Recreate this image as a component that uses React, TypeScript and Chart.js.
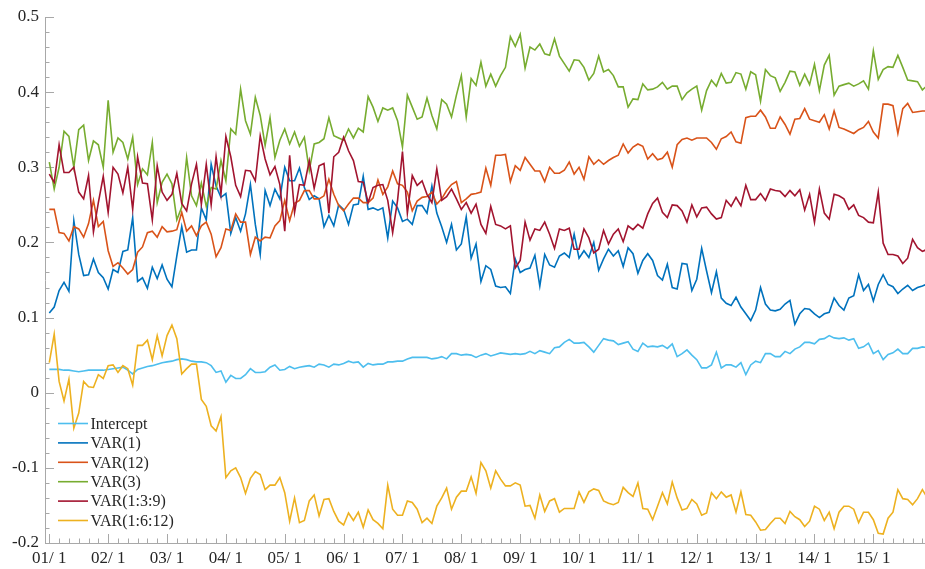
import React, { useEffect, useRef } from 'react';
import { Chart, registerables } from 'chart.js';

Chart.register(...registerables);

// Month index 0 = 2001/01 ... 179 = 2015/12
const yearTickLabels = ['01/ 1', '02/ 1', '03/ 1', '04/ 1', '05/ 1', '06/ 1', '07/ 1', '08/ 1', '09/ 1', '10/ 1', '11/ 1', '12/ 1', '13/ 1', '14/ 1', '15/ 1'];
const seriesNames = ['Intercept', 'VAR(1)', 'VAR(12)', 'VAR(3)', 'VAR(1:3:9)', 'VAR(1:6:12)'];
const seriesColors = ['#4DBEEE', '#0072BD', '#D95319', '#77AC30', '#A2142F', '#EDB120'];

const intercept = [
  0.031, 0.031, 0.031, 0.030, 0.030, 0.029, 0.028, 0.029, 0.030, 0.030, 0.030, 0.030, 0.031, 0.032, 0.033, 0.034, 0.030, 0.025, 0.031, 0.033, 0.035, 0.036, 0.038, 0.040, 0.041, 0.042, 0.044, 0.045, 0.044, 0.042, 0.041, 0.041, 0.040, 0.036, 0.027, 0.029, 0.014, 0.023, 0.019,
  0.019, 0.024, 0.032, 0.027, 0.027, 0.028, 0.034, 0.037, 0.030, 0.031, 0.035, 0.032, 0.034, 0.035, 0.036, 0.034, 0.038, 0.037, 0.034, 0.038, 0.037, 0.039, 0.042, 0.040, 0.041, 0.034, 0.039, 0.037, 0.038, 0.038, 0.041, 0.041, 0.042, 0.042, 0.045, 0.047, 0.047, 0.047, 0.047, 0.045, 0.046, 0.048, 0.045, 0.052, 0.052, 0.050, 0.051,
  0.050, 0.047, 0.050, 0.052, 0.049, 0.051, 0.053, 0.052, 0.051, 0.052, 0.051, 0.052, 0.055, 0.052, 0.056, 0.054, 0.052, 0.060, 0.061, 0.067, 0.071, 0.066, 0.066, 0.067, 0.061, 0.054, 0.063, 0.072, 0.070, 0.069, 0.064, 0.066, 0.068, 0.058, 0.055, 0.066, 0.061, 0.062, 0.061, 0.063, 0.059, 0.065, 0.048, 0.052, 0.057, 0.050, 0.044,
  0.033, 0.033, 0.037, 0.054, 0.033, 0.037, 0.037, 0.034, 0.040, 0.024, 0.037, 0.042, 0.040, 0.052, 0.052, 0.048, 0.048, 0.055, 0.052, 0.058, 0.061, 0.067, 0.067, 0.065, 0.071, 0.072, 0.076, 0.073, 0.072, 0.073, 0.070, 0.072, 0.059, 0.061, 0.066, 0.052, 0.056, 0.044, 0.051, 0.053, 0.058, 0.052, 0.052, 0.059, 0.059, 0.061, 0.060,
];

const var1 = [
  0.106, 0.114, 0.136, 0.147, 0.135, 0.229, 0.184, 0.156, 0.157, 0.178, 0.160, 0.153, 0.138, 0.164, 0.160, 0.188, 0.190, 0.233, 0.148, 0.153, 0.139, 0.167, 0.152, 0.170, 0.151, 0.141, 0.182, 0.221, 0.187,
  0.190, 0.190, 0.246, 0.230, 0.304, 0.275, 0.260, 0.265, 0.212, 0.233, 0.215, 0.238, 0.277, 0.224, 0.184, 0.269, 0.249, 0.271, 0.258, 0.300, 0.282, 0.282, 0.299, 0.273, 0.257, 0.262, 0.258, 0.221, 0.236,
  0.222, 0.250, 0.244, 0.224, 0.250, 0.251, 0.288, 0.244, 0.246, 0.243, 0.246, 0.206, 0.255, 0.246, 0.228, 0.231, 0.224, 0.249, 0.249, 0.239, 0.275, 0.239, 0.221, 0.200, 0.224, 0.190, 0.198, 0.234, 0.179,
  0.198, 0.148, 0.169, 0.164, 0.142, 0.140, 0.141, 0.132, 0.178, 0.160, 0.164, 0.166, 0.183, 0.142, 0.184, 0.170, 0.167, 0.182, 0.186, 0.180, 0.211, 0.179, 0.189, 0.180, 0.200, 0.163, 0.178, 0.191, 0.182, 0.189,
  0.168, 0.193, 0.185, 0.159, 0.176, 0.185, 0.176, 0.156, 0.150, 0.171, 0.140, 0.138, 0.172, 0.171, 0.136, 0.151, 0.192, 0.162, 0.133, 0.161, 0.126, 0.119, 0.116, 0.127, 0.114, 0.105, 0.096, 0.110, 0.140,
  0.118, 0.110, 0.109, 0.111, 0.118, 0.123, 0.091, 0.105, 0.112, 0.111, 0.105, 0.100, 0.105, 0.107, 0.126, 0.116, 0.110, 0.126, 0.129, 0.157, 0.136, 0.144, 0.122, 0.144, 0.157, 0.144, 0.141, 0.132, 0.138, 0.143, 0.136, 0.140, 0.142, 0.145,
];

const var12 = [
  0.244, 0.244, 0.213, 0.212, 0.202, 0.221, 0.218, 0.207, 0.225, 0.256, 0.221, 0.228, 0.189, 0.168, 0.173, 0.166, 0.158, 0.164, 0.187, 0.194, 0.213, 0.215, 0.207, 0.221, 0.214, 0.215, 0.217, 0.240, 0.215,
  0.222, 0.209, 0.222, 0.227, 0.211, 0.181, 0.193, 0.218, 0.216, 0.238, 0.227, 0.227, 0.184, 0.207, 0.202, 0.207, 0.206, 0.222, 0.229, 0.256, 0.229, 0.252, 0.256, 0.269, 0.269, 0.258, 0.258, 0.262, 0.284,
  0.264, 0.249, 0.242, 0.251, 0.259, 0.259, 0.253, 0.253, 0.259, 0.283, 0.264, 0.274, 0.295, 0.278, 0.276, 0.267, 0.242, 0.255, 0.260, 0.261, 0.267, 0.251, 0.258, 0.269, 0.277, 0.281, 0.253, 0.258, 0.264,
  0.265, 0.267, 0.299, 0.276, 0.316, 0.316, 0.317, 0.281, 0.302, 0.296, 0.313, 0.304, 0.295, 0.295, 0.281, 0.300, 0.292, 0.292, 0.296, 0.307, 0.291, 0.300, 0.284, 0.314, 0.304, 0.310, 0.304, 0.309, 0.313, 0.316,
  0.331, 0.319, 0.327, 0.331, 0.328, 0.311, 0.318, 0.310, 0.312, 0.320, 0.300, 0.330, 0.337, 0.339, 0.336, 0.339, 0.339, 0.339, 0.333, 0.324, 0.338, 0.341, 0.347, 0.334, 0.332, 0.366, 0.368, 0.368, 0.376,
  0.367, 0.352, 0.352, 0.367, 0.357, 0.344, 0.364, 0.365, 0.378, 0.364, 0.362, 0.360, 0.370, 0.351, 0.375, 0.353, 0.351, 0.348, 0.345, 0.350, 0.353, 0.361, 0.347, 0.339, 0.384, 0.384, 0.382, 0.345, 0.378, 0.385, 0.373, 0.374, 0.375, 0.375,
];

const var3 = [
  0.307, 0.271, 0.300, 0.348, 0.341, 0.300, 0.350, 0.356, 0.309, 0.335, 0.330, 0.300, 0.389, 0.320, 0.339, 0.333, 0.311, 0.340, 0.277, 0.298, 0.290, 0.333, 0.253, 0.280, 0.291, 0.278, 0.230, 0.247, 0.313,
  0.262, 0.249, 0.279, 0.248, 0.273, 0.271, 0.309, 0.282, 0.351, 0.344, 0.404, 0.362, 0.344, 0.393, 0.369, 0.329, 0.366, 0.313, 0.336, 0.351, 0.331, 0.347, 0.328, 0.340, 0.296, 0.331, 0.333, 0.338, 0.366,
  0.342, 0.339, 0.336, 0.351, 0.339, 0.352, 0.347, 0.394, 0.380, 0.361, 0.379, 0.376, 0.379, 0.362, 0.327, 0.396, 0.380, 0.364, 0.367, 0.392, 0.369, 0.351, 0.390, 0.384, 0.367, 0.396, 0.422, 0.367, 0.418,
  0.409, 0.440, 0.408, 0.424, 0.408, 0.422, 0.433, 0.474, 0.461, 0.477, 0.432, 0.460, 0.456, 0.464, 0.451, 0.449, 0.471, 0.448, 0.438, 0.428, 0.443, 0.442, 0.433, 0.416, 0.425, 0.448, 0.427, 0.430, 0.422, 0.407,
  0.407, 0.380, 0.391, 0.390, 0.411, 0.403, 0.404, 0.407, 0.413, 0.404, 0.408, 0.408, 0.390, 0.399, 0.404, 0.408, 0.376, 0.402, 0.416, 0.408, 0.425, 0.412, 0.413, 0.426, 0.424, 0.404, 0.427, 0.423, 0.388,
  0.430, 0.422, 0.419, 0.401, 0.413, 0.428, 0.427, 0.409, 0.424, 0.410, 0.437, 0.402, 0.436, 0.449, 0.396, 0.408, 0.410, 0.412, 0.408, 0.411, 0.415, 0.404, 0.455, 0.417, 0.430, 0.434, 0.433, 0.449, 0.433, 0.416, 0.415, 0.414, 0.403, 0.409,
];

const var139 = [
  0.291, 0.280, 0.330, 0.293, 0.293, 0.300, 0.267, 0.258, 0.289, 0.214, 0.253, 0.288, 0.240, 0.300, 0.291, 0.266, 0.300, 0.244, 0.314, 0.279, 0.278, 0.230, 0.302, 0.267, 0.256, 0.264, 0.292, 0.252, 0.242,
  0.278, 0.304, 0.251, 0.304, 0.250, 0.314, 0.264, 0.341, 0.314, 0.276, 0.261, 0.296, 0.295, 0.282, 0.342, 0.311, 0.290, 0.301, 0.277, 0.215, 0.316, 0.240, 0.277, 0.276, 0.309, 0.272, 0.302, 0.305, 0.239,
  0.314, 0.320, 0.340, 0.322, 0.309, 0.281, 0.280, 0.253, 0.273, 0.276, 0.277, 0.256, 0.213, 0.256, 0.321, 0.239, 0.289, 0.276, 0.282, 0.264, 0.253, 0.298, 0.256, 0.261, 0.271, 0.258, 0.244, 0.253, 0.239,
  0.251, 0.224, 0.212, 0.248, 0.224, 0.222, 0.218, 0.222, 0.166, 0.176, 0.227, 0.203, 0.218, 0.216, 0.227, 0.211, 0.192, 0.218, 0.216, 0.219, 0.191, 0.191, 0.218, 0.206, 0.186, 0.191, 0.216, 0.198, 0.211, 0.218,
  0.201, 0.222, 0.217, 0.224, 0.219, 0.238, 0.252, 0.259, 0.240, 0.233, 0.250, 0.249, 0.242, 0.227, 0.250, 0.234, 0.246, 0.247, 0.238, 0.231, 0.233, 0.256, 0.248, 0.260, 0.249, 0.276, 0.257, 0.257, 0.265,
  0.256, 0.271, 0.269, 0.268, 0.261, 0.269, 0.262, 0.270, 0.243, 0.264, 0.227, 0.271, 0.239, 0.231, 0.264, 0.262, 0.258, 0.244, 0.250, 0.236, 0.233, 0.227, 0.226, 0.267, 0.199, 0.184, 0.184, 0.182, 0.172, 0.179, 0.204, 0.193, 0.188, 0.191,
];

const var1612 = [
  0.040, 0.078, 0.015, -0.011, 0.018, -0.047, -0.027, 0.015, 0.008, 0.007, 0.024, 0.019, 0.036, 0.037, 0.027, 0.036, 0.032, 0.010, 0.063, 0.063, 0.070, 0.044, 0.076, 0.049, 0.076, 0.090, 0.072, 0.025, 0.032, 0.038, 0.038, -0.009, -0.018, -0.044, -0.051, -0.032, -0.113, -0.104, -0.100,
  -0.113, -0.134, -0.114, -0.105, -0.109, -0.129, -0.123, -0.123, -0.113, -0.133, -0.171, -0.140, -0.173, -0.170, -0.144, -0.136, -0.164, -0.142, -0.141, -0.158, -0.171, -0.176, -0.160, -0.170, -0.159, -0.179, -0.156, -0.169, -0.174, -0.181, -0.123, -0.155, -0.163, -0.163, -0.144, -0.146, -0.155, -0.173, -0.167, -0.174, -0.151, -0.140, -0.127, -0.155, -0.139, -0.131, -0.131,
  -0.112, -0.134, -0.093, -0.104, -0.127, -0.104, -0.115, -0.124, -0.124, -0.120, -0.123, -0.151, -0.150, -0.167, -0.136, -0.158, -0.144, -0.141, -0.159, -0.154, -0.154, -0.154, -0.132, -0.146, -0.132, -0.128, -0.130, -0.144, -0.147, -0.149, -0.146, -0.126, -0.133, -0.138, -0.120, -0.154, -0.155, -0.169, -0.151, -0.133, -0.148, -0.119, -0.140, -0.156, -0.154, -0.142, -0.148,
  -0.163, -0.160, -0.133, -0.141, -0.132, -0.139, -0.136, -0.159, -0.132, -0.162, -0.163, -0.172, -0.183, -0.182, -0.174, -0.167, -0.167, -0.174, -0.158, -0.165, -0.169, -0.178, -0.171, -0.151, -0.155, -0.170, -0.159, -0.181, -0.159, -0.151, -0.151, -0.155, -0.173, -0.159, -0.159, -0.169, -0.187, -0.188, -0.167, -0.159, -0.129, -0.141, -0.142, -0.149, -0.141, -0.129, -0.140,
];

const allSeries = [intercept, var1, var12, var3, var139, var1612];

const AXIS_COLOR = '#a8a8a8';
const TEXT_COLOR = '#262626';
const FONT_FAMILY = "'Liberation Serif', 'Times New Roman', serif";

const tickMarksPlugin = {
  id: 'tickMarks',
  beforeDatasetsDraw(chart: any) {
    const { ctx, chartArea, scales } = chart;
    const xs = scales.x;
    const ys = scales.y;
    ctx.save();
    ctx.strokeStyle = AXIS_COLOR;
    ctx.lineWidth = 1;
    ctx.beginPath();
    // x ticks: every 2 months, longer at January
    for (let m = 0; m <= xs.max; m += 2) {
      const px = Math.round(xs.getPixelForValue(m)) + 0.5;
      const len = m % 12 === 0 ? 9 : 4.5;
      ctx.moveTo(px, chartArea.bottom);
      ctx.lineTo(px, chartArea.bottom - len);
    }
    // y ticks: every 0.02, longer at 0.1
    for (let k = -10; k <= 25; k++) {
      const v = k * 0.02;
      const py = Math.round(ys.getPixelForValue(v)) + 0.5;
      const len = k % 5 === 0 ? 9 : 4.5;
      ctx.moveTo(chartArea.left, py);
      ctx.lineTo(chartArea.left + len, py);
    }
    ctx.stroke();
    ctx.restore();
  },
};

const legendPlugin = {
  id: 'innerLegend',
  afterDraw(chart: any) {
    const { ctx, chartArea } = chart;
    const x0 = chartArea.left + 13;
    const y0 = 423.5;
    const rowH = 19.4;
    ctx.save();
    ctx.font = `16px ${FONT_FAMILY}`;
    ctx.textBaseline = 'middle';
    ctx.textAlign = 'left';
    chart.data.datasets.forEach((ds: any, k: number) => {
      const y = y0 + k * rowH;
      ctx.strokeStyle = ds.borderColor;
      ctx.lineWidth = 1.6;
      ctx.beginPath();
      ctx.moveTo(x0, y);
      ctx.lineTo(x0 + 30, y);
      ctx.stroke();
      ctx.fillStyle = TEXT_COLOR;
      ctx.fillText(ds.label, x0 + 32.5, y + 1);
    });
    ctx.restore();
  },
};

export default function App() {
  const canvasRef = useRef<HTMLCanvasElement | null>(null);

  useEffect(() => {
    if (!canvasRef.current) return;
    const datasets = allSeries.map((values, k) => ({
      label: seriesNames[k],
      data: values.map((v, i) => ({ x: i, y: v })),
      borderColor: seriesColors[k],
      backgroundColor: seriesColors[k],
      borderWidth: 1.6,
      pointRadius: 0,
      pointHoverRadius: 0,
      tension: 0,
      fill: false,
      order: allSeries.length - k,
    }));

    const chart = new Chart(canvasRef.current, {
      type: 'line',
      data: { datasets },
      plugins: [tickMarksPlugin, legendPlugin],
      options: {
        animation: false,
        responsive: false,
        maintainAspectRatio: false,
        devicePixelRatio: 1,
        layout: { padding: { top: 17, right: 0, bottom: 0, left: 0 } },
        plugins: {
          legend: { display: false },
          tooltip: { enabled: false },
        },
        scales: {
          x: {
            type: 'linear',
            min: -0.877,
            max: 178.53,
            grid: { display: false, drawTicks: false },
            border: { display: true, color: AXIS_COLOR, width: 1 },
            afterBuildTicks: (scale: any) => {
              scale.ticks = yearTickLabels.map((_, j) => ({ value: j * 12 }));
            },
            afterFit: (scale: any) => {
              scale.height = 26;
            },
            ticks: {
              autoSkip: false,
              maxRotation: 0,
              minRotation: 0,
              padding: 5,
              color: TEXT_COLOR,
              font: { family: FONT_FAMILY, size: 17 },
              callback: (value: any) => yearTickLabels[Math.round(Number(value) / 12)] ?? '',
            },
          },
          y: {
            type: 'linear',
            min: -0.2,
            max: 0.5,
            grid: { display: false, drawTicks: false },
            border: { display: true, color: AXIS_COLOR, width: 1 },
            afterFit: (scale: any) => {
              scale.width = 45;
            },
            ticks: {
              stepSize: 0.1,
              padding: 6,
              color: TEXT_COLOR,
              font: { family: FONT_FAMILY, size: 17 },
              callback: (value: any) => String(Math.round(Number(value) * 10) / 10),
            },
          },
        },
      },
    });
    return () => chart.destroy();
  }, []);

  return (
    <div style={{ position: 'fixed', left: 0, top: 0, width: 925, height: 569, background: '#ffffff' }}>
      <canvas ref={canvasRef} width={925} height={569} style={{ display: 'block', width: 925, height: 569 }} />
    </div>
  );
}
